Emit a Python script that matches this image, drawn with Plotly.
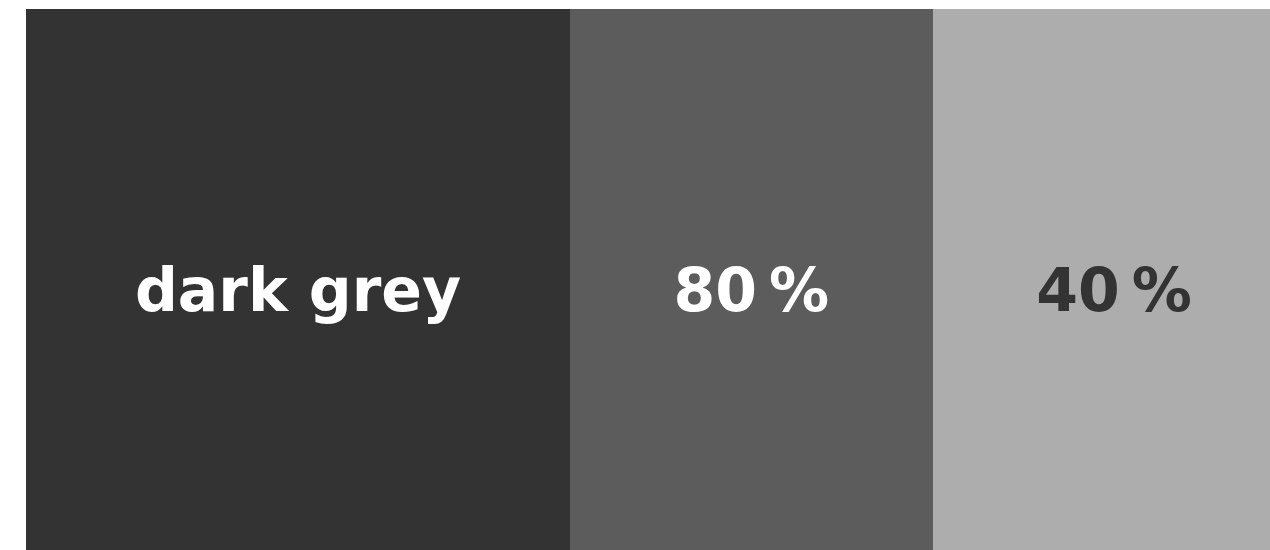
import numpy as np
import plotly.graph_objects as go

labels = ["dark grey", "80\u202f%", "40\u202f%"]
weights = [1.5, 1.0, 1.0]
values = [1, 1, 1]
fill_colors = ["#333333", "#5c5c5c", "#adadad"]
text_colors = ["#ffffff", "#ffffff", "#333333"]

w = np.array(weights)
left = np.concatenate([[0], np.cumsum(w)[:-1]])
centers = left + w / 2

fig = go.Figure()
fig.add_trace(go.Bar(
    x=centers, y=values, width=w,
    marker=dict(color=fill_colors, line=dict(width=0)),
    hoverinfo="skip", showlegend=False,
))
fig.add_trace(go.Scatter(
    x=centers, y=[0.47] * len(labels), mode="text", text=labels,
    textposition="middle center",
    textfont=dict(family="DejaVu Sans", size=60, color=text_colors, weight="bold"),
    hoverinfo="skip", showlegend=False, cliponaxis=False,
))

fig.update_layout(
    width=1270, height=550,
    margin=dict(l=26, r=0, t=9, b=0),
    paper_bgcolor="white", plot_bgcolor="white",
    bargap=0,
    xaxis=dict(range=[0, 3.43], visible=False, fixedrange=True),
    yaxis=dict(range=[0, 1], visible=False, fixedrange=True),
)

fig.write_html(
    "out.html",
    config={"displayModeBar": False},
    post_script="document.body.style.margin='0';document.body.style.overflow='hidden';",
)
